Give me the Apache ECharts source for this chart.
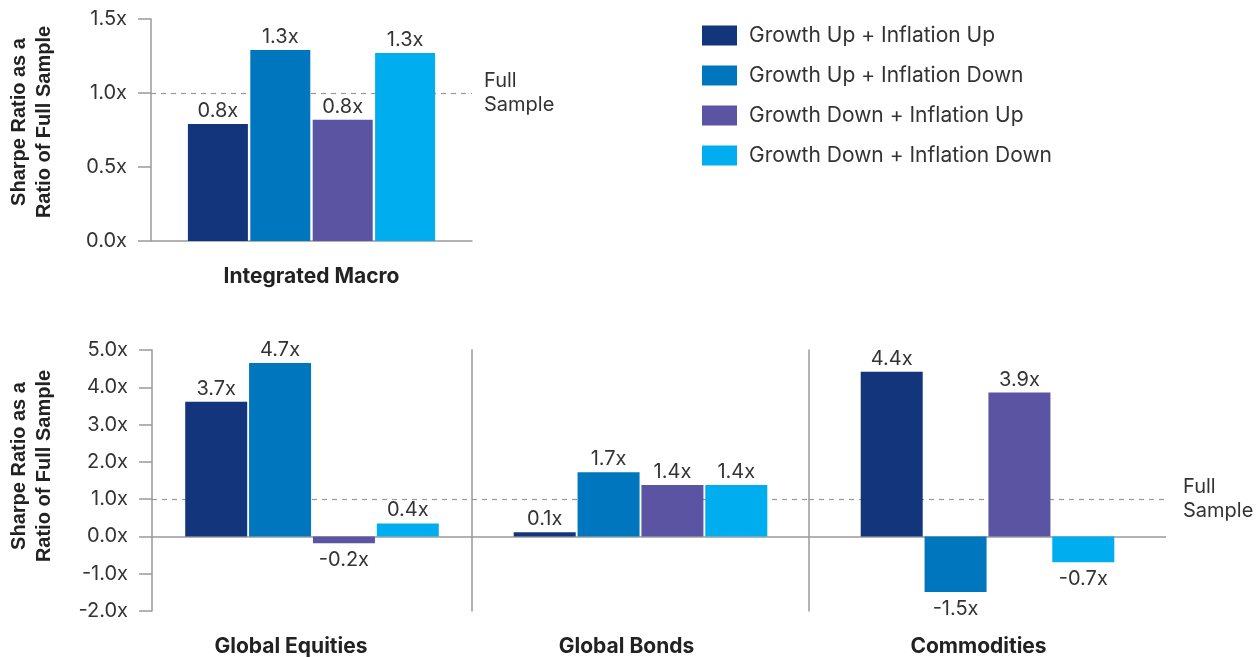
<!DOCTYPE html>
<html>
<head>
<meta charset="utf-8">
<script src="https://cdn.jsdelivr.net/npm/echarts@6/dist/echarts.min.js"></script>
<style>
  html, body { margin: 0; padding: 0; background: #fff; }
  #chart { width: 1256px; height: 657px; }
</style>
</head>
<body>
<div id="chart"></div>
<script>
// ---- data ----
var scenarioNames = [
    'Growth Up + Inflation Up',
    'Growth Up + Inflation Down',
    'Growth Down + Inflation Up',
    'Growth Down + Inflation Down'
];
var topCategory = ['Integrated Macro'];
var bottomCategories = ['Global Equities', 'Global Bonds', 'Commodities'];

// integrated macro, one value per scenario
var macroValues = [0.79, 1.29, 0.82, 1.27];
var macroLabels = ['0.8x', '1.3x', '0.8x', '1.3x'];

// per scenario: equities, bonds, commodities
var upUpValues = [3.61, 0.11, 4.42];
var upDownValues = [4.65, 1.72, -1.49];
var downUpValues = [-0.18, 1.38, 3.86];
var downDownValues = [0.35, 1.38, -0.69];
var upUpLabels = ['3.7x', '0.1x', '4.4x'];
var upDownLabels = ['4.7x', '1.7x', '-1.5x'];
var downUpLabels = ['-0.2x', '1.4x', '3.9x'];
var downDownLabels = ['0.4x', '1.4x', '-0.7x'];

var fullSample = 1.0;
var fullSampleText = 'Full\nSample';
var axisTitle = 'Sharpe Ratio as a\nRatio of Full Sample';

var bottomValues = [upUpValues, upDownValues, downUpValues, downDownValues];
var bottomLabels = [upUpLabels, upDownLabels, downUpLabels, downDownLabels];

var colors = ['#13357b', '#0076be', '#5b54a3', '#00aeef'];
var font = 'Inter, "Open Sans", sans-serif';
var titleFont = '"Liberation Sans", Arial, sans-serif';
var textColor = '#333';
var lineColor = '#9a9a9a';

var dom = document.getElementById('chart');
var myChart = echarts.init(dom);

var grids = [
    { left: 151, top: 19, width: 321, height: 222 },
    { left: 152, top: 350, width: 320, height: 262 },
    { left: 472, top: 350, width: 337, height: 262 },
    { left: 809, top: 350, width: 357, height: 262 }
];
var labelShift = [0, 42, 28, 18];

var xAxes = grids.map(function (g, i) {
    return {
        type: 'category',
        gridIndex: i,
        data: i === 0 ? topCategory : [bottomCategories[i - 1]],
        axisLine: i === 0 ? { show: true, lineStyle: { color: lineColor, width: 1.5 } } : { show: false, onZero: false },
        axisTick: { show: false },
        axisLabel: {
            margin: 25,
            color: '#222',
            fontFamily: font,
            fontWeight: 'bold',
            fontSize: 21,
            padding: [0, labelShift[i], 0, 0]
        }
    };
});

function tickFmt(v) { return v.toFixed(1) + 'x'; }

var yAxes = grids.map(function (g, i) {
    var top = i === 0;
    return {
        type: 'value',
        gridIndex: i,
        min: top ? 0 : -2,
        max: top ? 1.5 : 5,
        interval: top ? 0.5 : 1,
        splitLine: { show: false },
        axisLine: { show: true, onZero: false, lineStyle: { color: lineColor, width: 1.5 } },
        axisTick: { show: i <= 1, length: 13, lineStyle: { color: lineColor, width: 1.5 } },
        axisLabel: {
            show: i <= 1,
            margin: 24,
            formatter: tickFmt,
            color: textColor,
            fontFamily: font,
            fontSize: 20
        }
    };
});

function refLines(gridIdx) {
    var data = [{
        yAxis: fullSample,
        lineStyle: { type: [5, 5], color: lineColor, width: 1.2 },
        label: {
            show: gridIdx === 0 || gridIdx === 3,
            position: 'end',
            distance: gridIdx === 0 ? 12 : 17,
            formatter: fullSampleText,
            align: 'left',
            color: textColor,
            fontFamily: font,
            fontSize: 20,
            lineHeight: 24
        }
    }];
    if (gridIdx > 0) {
        data.push({
            yAxis: 0,
            lineStyle: { type: 'solid', color: lineColor, width: 1.5 },
            label: { show: false }
        });
    }
    return {
        z: 1,
        silent: true,
        symbol: 'none',
        animation: false,
        data: data
    };
}

var labelStyle = {
    show: true,
    position: 'top',
    distance: 3,
    color: textColor,
    fontFamily: font,
    fontSize: 20
};

var series = [];
scenarioNames.forEach(function (name, s) {
    series.push({
        name: name,
        type: 'bar',
        xAxisIndex: 0,
        yAxisIndex: 0,
        barWidth: 60,
        barGap: '4%',
        itemStyle: { color: colors[s] },
        label: Object.assign({}, labelStyle, {
            formatter: (function (txt) { return function () { return txt; }; })(macroLabels[s])
        }),
        data: [macroValues[s]],
        markLine: s === 0 ? refLines(0) : undefined
    });
    for (var c = 0; c < bottomCategories.length; c++) {
        var v = bottomValues[s][c];
        series.push({
            name: name,
            type: 'bar',
            xAxisIndex: c + 1,
            yAxisIndex: c + 1,
            barWidth: 62,
            barGap: '3%',
            itemStyle: { color: colors[s] },
            label: Object.assign({}, labelStyle, {
                position: v < 0 ? 'bottom' : 'top',
                distance: v < 0 ? 7 : 3,
                formatter: (function (txt) { return function () { return txt; }; })(bottomLabels[s][c])
            }),
            data: [v],
            markLine: s === 0 ? refLines(c + 1) : undefined
        });
    }
});

var option = {
    animation: false,
    backgroundColor: '#fff',
    textStyle: { fontFamily: font },
    legend: {
        orient: 'vertical',
        left: 702,
        top: 25,
        padding: 0,
        icon: 'rect',
        itemWidth: 35,
        itemHeight: 20,
        itemGap: 19,
        selectedMode: false,
        data: scenarioNames,
        textStyle: {
            color: textColor,
            fontFamily: font,
            fontSize: 21,
            padding: [0, 0, 0, 7]
        }
    },
    graphic: [
        {
            type: 'text',
            x: 32,
            y: 122,
            rotation: Math.PI / 2,
            style: {
                text: axisTitle,
                fill: '#222',
                font: 'bold 20px ' + titleFont,
                lineHeight: 25,
                align: 'center',
                verticalAlign: 'middle'
            }
        },
        {
            type: 'text',
            x: 32,
            y: 466,
            rotation: Math.PI / 2,
            style: {
                text: axisTitle,
                fill: '#222',
                font: 'bold 20px ' + titleFont,
                lineHeight: 25,
                align: 'center',
                verticalAlign: 'middle'
            }
        }
    ],
    grid: grids,
    xAxis: xAxes,
    yAxis: yAxes,
    series: series
};

if (option && typeof option === 'object') {
    myChart.setOption(option);
}
</script>
</body>
</html>
